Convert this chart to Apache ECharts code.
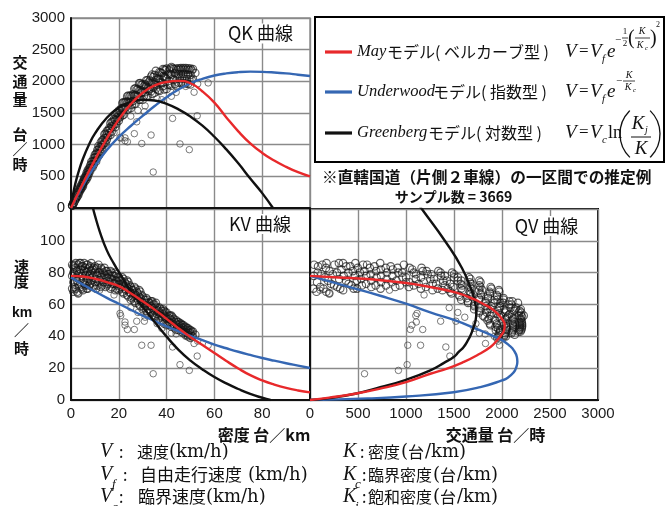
<!DOCTYPE html>
<html><head><meta charset="utf-8">
<script src="https://cdn.jsdelivr.net/npm/echarts@6/dist/echarts.min.js"></script>
<style>html,body{margin:0;padding:0;background:#fff}#c{width:672px;height:506px}</style>
</head><body><div id="c"></div>
<script>
// ---------- axis ticks ----------
const densityTicks = [0, 20, 40, 60, 80, 100];          // 台/km
const flowTicksQK = [0, 500, 1000, 1500, 2000, 2500, 3000]; // 台/時
const speedTicks = [0, 20, 40, 60, 80, 100, 120];       // km/時
const flowTicksQV = [0, 500, 1000, 1500, 2000, 2500, 3000];

// ---------- model curves ----------
// QK panel [K, Q]
const mayQK = [[0,0],[5,390],[10,760],[15,1100],[20,1400],[25,1640],[30,1820],[35,1935],[40,1990],[45,2008],[50,1970],[55,1840],[60,1663],[65,1430],[70,1210],[75,1020],[80,870],[85,750],[90,650],[95,565],[100,498]];
const underQK = [[0,0],[5,355],[10,660],[15,915],[20,1120],[25,1295],[30,1455],[35,1610],[40,1750],[45,1870],[50,1970],[55,2040],[60,2092],[65,2125],[70,2145],[75,2153],[80,2150],[85,2140],[90,2125],[95,2105],[100,2085]];
const greenQK = [[0,0],[1,244],[2,412],[3,551],[5,777],[7.5,1000],[10,1174],[15,1426],[20,1586],[25,1675],[30,1709],[35,1697],[40,1645],[45,1558],[50,1443],[55,1300],[60,1125],[65,925],[70,705],[75,465],[80,235],[84.5,0]];
// KV panel [K, V]
const mayKV = [[0,78],[5,77.6],[10,76.2],[15,74],[20,71.5],[25,67],[30,62],[35,56.8],[40,51],[45,45],[50,39.5],[55,34.5],[60,29.5],[65,24.5],[70,19.8],[75,15.6],[80,12.3],[85,9.7],[90,7.6],[95,6],[100,4.8]];
const underKV = [[0,77],[5,72.5],[10,68.2],[15,64.2],[20,60.5],[25,56.7],[30,53],[35,49.6],[40,46.3],[45,43.2],[50,40.3],[55,37.6],[60,34.8],[65,32.5],[70,30.3],[75,28.3],[80,26.4],[85,24.7],[90,23.1],[95,21.6],[100,20.1]];
const greenKV = [[8.5,126],[9.3,120],[10,116],[12,106],[15,94],[18,85.5],[20,80.5],[25,68.5],[30,58.5],[35,49],[40,39.8],[45,31.5],[50,24.7],[55,19.2],[60,14.4],[65,10.4],[70,6.9],[75,3.8],[80,1.4],[83.5,0]];
// QV panel [Q, V]
const mayQV = [[0,78],[300,77],[600,76],[1000,73.5],[1250,71],[1514,67.6],[1700,63.5],[1800,60.5],[1900,57],[1967,53.3],[2010,50],[2028,47],[2020,43.5],[1995,41],[1950,37.5],[1880,33.3],[1741,28.1],[1601,23.9],[1427,19.7],[1253,16.5],[1000,11.2],[731,7.1],[470,3.9],[200,1.5],[0,0]];
const underQV = [[0,78],[470,70],[731,65.5],[1000,60.5],[1253,55],[1514,50],[1740,44.5],[1900,40.5],[2000,37.6],[2080,34],[2123,31.2],[2155,27],[2160,24],[2145,20],[2123,17.5],[2060,14],[2000,12.3],[1775,8.1],[1497,4.9],[1000,2.2],[600,1],[0,0]];
const greenQV = [[1045,130],[1165,120],[1410,99.6],[1584,82.8],[1688,68],[1720,61],[1733,55],[1725,50],[1705,46],[1675,41],[1640,37],[1601,33.3],[1549,30.2],[1497,27],[1400,23.5],[1253,18.6],[1000,12.7],[731,8],[470,3.9],[200,1.2],[0,0]];

// ---------- observed samples [K 台/km, V km/h, Q 台/h] (estimated) ----------
// main dense band
const samplesDense = [
[1,68,68],[1,74,74],[1,80,80],[1,84,84],[2,70,140],[2,77,154],[2,83,166],[2,86,172],
[3,67,201],[3,73,219],[3,79,237],[3,85,255],[4,71,284],[4,76,304],[4,82,328],[4,86,344],
[5,69,345],[5,75,375],[5,80,400],[5,84,420],[6,72,432],[6,78,468],[6,83,498],
[7,70,490],[7,76,532],[7,81,567],[7,85,595],[8,73,584],[8,79,632],[8,84,672],
[9,71,639],[9,77,693],[9,82,738],[10,74,740],[10,80,800],[10,84,840],
[11,72,792],[11,78,858],[11,83,913],[12,75,900],[12,80,960],
[13,72,936],[13,77,1001],[13,82,1066],[14,74,1036],[14,79,1106],[14,83,1162],
[15,72,1080],[15,77,1155],[15,81,1215],[16,74,1184],[16,79,1264],
[17,71,1207],[17,76,1292],[17,80,1360],[18,73,1314],[18,78,1404],
[19,70,1330],[19,75,1425],[19,79,1501],[20,69,1380],[20,73,1460],[20,77,1540],
[21,71,1491],[21,75,1575],[22,67,1474],[22,72,1584],[22,76,1672],[23,69,1587],[23,73,1679],
[24,65,1560],[24,70,1680],[24,74,1776],[25,63,1575],[25,67,1675],[25,71,1775],
[26,65,1690],[26,69,1794],[27,61,1647],[27,66,1782],[27,70,1890],[28,63,1764],[28,67,1876],
[29,59,1711],[29,64,1856],[29,68,1972],[30,57,1710],[30,61,1830],[30,65,1950],
[31,59,1829],[31,63,1953],[32,55,1760],[32,59,1888],[32,63,2016],[33,57,1881],[33,61,2013],
[34,53,1802],[34,58,1972],[34,62,2108],[35,52,1820],[35,56,1960],[35,60,2100],
[36,54,1944],[36,58,2088],[37,50,1850],[37,55,2035],[37,58,2146],[38,52,1976],[38,56,2128],
[39,48,1872],[39,53,2067],[39,56,2184],[40,47,1880],[40,51,2040],[40,55,2200],
[41,49,2009],[41,53,2173],[42,46,1932],[42,50,2100],[42,53,2226],[43,47,2021],[43,51,2193],
[44,44,1936],[44,48,2112],[44,50,2200],[45,44,1980],[45,47,2115],[45,49,2205],
[46,43,1978],[46,46,2116],[46,48,2208],[47,42,1974],[47,45,2115],[47,47,2209],
[48,41,1968],[48,44,2112],[48,46,2208],[49,40,1960],[49,43,2107],[49,45,2205],
[50,39,1950],[50,42,2100],[50,44,2200],[51,40,2040],[51,43,2193],[52,41,2132],
[0.5,70,35],[0.5,78,39],[0.5,85,43],[1.5,71,107],[1.5,79,119],[1.5,85,128],
[2.5,68,170],[2.5,75,188],[2.5,81,203],[3.5,72,252],[3.5,80,280],[3.5,86,301],
[4.5,70,315],[4.5,78,351],[4.5,84,378],[5.5,73,402],[5.5,81,446],[5.5,86,473],
[6.5,70,455],[6.5,75,488],[6.5,80,520],[6.5,85,553],[7.5,72,540],[7.5,78,585],[7.5,83,623],
[8.5,75,638],[8.5,81,689],[8.5,86,731],[9.5,72,684],[9.5,78,741],[9.5,83,789],
[10.5,70,735],[10.5,76,798],[10.5,82,861],[11.5,74,851],[11.5,80,920],[11.5,85,978],
[12.5,71,888],[12.5,77,963],[12.5,83,1038],[13.5,74,999],[13.5,80,1080],
[14.5,71,1030],[14.5,76,1102],[14.5,81,1175],[15.5,73,1132],[15.5,79,1225],
[16.5,70,1155],[16.5,76,1254],[16.5,81,1337],[17.5,73,1278],[17.5,78,1365],
[18.5,69,1277],[18.5,75,1388],[18.5,80,1480],[19.5,72,1404],[19.5,77,1502],
[20.5,70,1435],[20.5,75,1538],[21.5,68,1462],[21.5,73,1570],[21.5,77,1656],
[22.5,70,1575],[22.5,74,1665],[23.5,66,1551],[23.5,71,1669],[23.5,75,1763],
[24.5,68,1666],[24.5,72,1764],[25.5,64,1632],[25.5,69,1760],
[26.5,62,1643],[26.5,67,1776],[26.5,71,1882],[27.5,64,1760],[27.5,68,1870],
[28.5,60,1710],[28.5,65,1853],[28.5,69,1967],[29.5,62,1829],[29.5,66,1947],
[30.5,58,1769],[30.5,63,1922],[31.5,56,1764],[31.5,61,1922],[31.5,64,2016],
[32.5,57,1853],[32.5,61,1983],[33.5,55,1843],[33.5,59,1977],[33.5,62,2077],
[34.5,55,1898],[34.5,60,2070],[35.5,53,1882],[35.5,57,2024],[35.5,61,2166],
[36.5,51,1862],[36.5,56,2044],[37.5,53,1988],[37.5,57,2138],
[38.5,50,1925],[38.5,54,2079],[38.5,57,2195],[39.5,52,2054],[39.5,55,2173],
[40.5,48,1944],[40.5,52,2106],[41.5,47,1951],[41.5,51,2117],[41.5,53,2200],
[42.5,48,2040],[42.5,52,2210],[43.5,45,1958],[43.5,49,2132],[44.5,46,2047],[44.5,49,2181],
[45.5,45,2048],[45.5,48,2184],[46.5,44,2046],[46.5,47,2186],[47.5,43,2043],[47.5,46,2185],
[48.5,42,2037],[48.5,45,2183],[49.5,41,2030],[49.5,44,2178],[50.5,40,2020],[50.5,43,2172]
];
// scattered observations away from the band
const samplesSparse = [
[20.5,54.4,1115],[20.8,53,1102],[22.6,49,1107],[22.6,47,1062],[23.6,44.3,1045],[26.5,44.3,1174],
[27.5,49.5,1361],[30.7,49.5,1520],[29.6,34.4,1018],[33.5,34.4,1152],[34.4,16.5,568],[42.5,33.3,1415],
[45.6,22.2,1012],[49.5,18.6,921],[52.8,27.6,1457],[57.4,34.4,1975],[51.5,35.5,1828],[44,41.5,1826],
[38,45,1710],[3,67,201],[1.5,69,104],[53,37,1961],[48,40,1920],[25,58,1450],[31,52,1612],
[36,48,1728],[18,66,1188],[12,69,828],[42,42,1764],[28,55,1540]
];

// ---------- texts ----------
const legendNames = ['May', 'Underwood', 'Greenberg'];
const legendTypes = ['モデル( ベルカーブ型 )', 'モデル( 指数型 )', 'モデル( 対数型 )'];
const colors = ['#e8292b', '#3567b3', '#111111'];

const JP = '"Noto Sans CJK JP"';
const SER = '"Liberation Serif"';
const DSER = '"DejaVu Serif"';
const SANS = '"Liberation Sans"';

const G = [];
function txt(text, x, y, font, align, extra) {
  G.push({type: 'text', x: x, y: y, z: 50, silent: true,
    style: Object.assign({text: text, font: font, fill: '#111', textAlign: align || 'left', textVerticalAlign: 'middle'}, extra || {})});
}
function seg(x1, y1, x2, y2, color, w) {
  G.push({type: 'line', z: 50, silent: true, shape: {x1: x1, y1: y1, x2: x2, y2: y2}, style: {stroke: color, lineWidth: w}});
}
function paren(cx, cy, r, a0, a1) {
  G.push({type: 'arc', z: 50, silent: true, shape: {cx: cx, cy: cy, r: r, startAngle: a0, endAngle: a1, clockwise: true},
    style: {stroke: '#111', lineWidth: 1.3, fill: null}});
}

// axis names
const bJP15 = 'bold 15px ' + JP;
txt('交', 20, 62, bJP15, 'center'); txt('通', 20, 81, bJP15, 'center'); txt('量', 20, 99.5, bJP15, 'center');
txt('台', 20, 134, bJP15, 'center'); txt('／', 20, 149, bJP15, 'center'); txt('時', 20, 164, bJP15, 'center');
txt('速', 21.5, 266, bJP15, 'center'); txt('度', 21.5, 281, bJP15, 'center');
txt('km', 22, 313, 'bold 14px ' + SANS, 'center'); txt('／', 21.5, 330, bJP15, 'center'); txt('時', 21.5, 348, bJP15, 'center');
txt('密度 台／km', 264, 434.5, 'bold 16px ' + JP, 'center');
txt('交通量 台／時', 495.5, 434.5, 'bold 16px ' + JP, 'center');

// panel titles
const titleStyle = {backgroundColor: '#fff', padding: [1, 3]};
txt('QK 曲線', 260.5, 33.5, '18px ' + JP, 'center', titleStyle);
txt('KV 曲線', 260, 224, '18px ' + JP, 'center', titleStyle);
txt('QV 曲線', 546.5, 226, '18px ' + JP, 'center', titleStyle);

// legend box
G.push({type: 'rect', z: 40, silent: true, shape: {x: 315, y: 17, width: 349, height: 145}, style: {fill: '#fff', stroke: '#000', lineWidth: 2}});
const rowY = [52, 92, 133];
const nameEnd = [387, 433, 428];
for (let i = 0; i < 3; i++) {
  seg(325, rowY[i], 352, rowY[i], colors[i], 3.2);
  txt(legendNames[i], 357, rowY[i], 'italic 16.5px ' + SER, 'left');
  txt(legendTypes[i], nameEnd[i], rowY[i], '16px ' + JP, 'left');
  txt('V', 565, rowY[i], 'italic 19px ' + SER, 'left');
  txt('=', 579, rowY[i], '17px ' + SER, 'left');
  txt('V', 590, rowY[i], 'italic 19px ' + SER, 'left');
}
// formula 1: V = Vf e^{-1/2 (K/Kc)^2}
txt('f', 602, 59, 'italic 11px ' + SER); txt('e', 607, 52, 'italic 19px ' + SER);
txt('−', 615, 40, '11px ' + SER); txt('1', 625, 32, '9px ' + SER, 'center'); seg(622, 38, 628, 38, '#111', 0.8); txt('2', 625, 44, '9px ' + SER, 'center');
txt('(', 628, 39, '20px ' + SER); txt('K', 642, 31, 'italic 10px ' + SER, 'center'); seg(635, 38, 650, 38, '#111', 0.8);
txt('K', 640, 45, 'italic 10px ' + SER, 'center'); txt('c', 645, 48, 'italic 7px ' + SER);
txt(')', 650, 39, '20px ' + SER); txt('2', 656, 25, '8px ' + SER);
// formula 2: V = Vf e^{-K/Kc}
txt('f', 602, 99, 'italic 11px ' + SER); txt('e', 607, 92, 'italic 19px ' + SER);
txt('−', 616, 81, '11px ' + SER); txt('K', 629, 75, 'italic 10px ' + SER, 'center'); seg(623, 81, 635, 81, '#111', 0.8);
txt('K', 628, 87, 'italic 10px ' + SER, 'center'); txt('c', 633, 90, 'italic 7px ' + SER);
// formula 3: V = Vc ln(Kj/K)
txt('c', 602, 140, 'italic 11px ' + SER); txt('ln', 608, 133, '18px ' + SER);
paren(652.6, 134, 32.6, Math.PI - 0.8, Math.PI + 0.8);
paren(627.4, 134, 32.6, -0.8, 0.8);
txt('K', 638, 124, 'italic 19px ' + SER, 'center'); txt('j', 645, 130, 'italic 10px ' + SER);
seg(631, 137, 651, 137, '#111', 1);
txt('K', 641, 149, 'italic 19px ' + SER, 'center');

// notes
txt('※直轄国道（片側２車線）の一区間での推定例', 322, 177, 'bold 15.7px ' + JP, 'left');
txt('サンプル数 = 3669', 453.5, 196.5, 'bold 14px ' + JP, 'center');

// definitions
const defJP = '16px ' + JP, defV = 'italic 20px ' + SER, defU = '18px ' + DSER;
txt('V', 100, 452, defV); txt(':', 119, 452, defJP); txt('速度', 137, 452, defJP); txt('(km/h)', 169, 452, defU);
txt('V', 100, 475, defV); txt('f', 112, 485, 'italic 13px ' + SER); txt(':', 123, 475, defJP); txt('自由走行速度', 140, 475, '17px ' + JP); txt('(km/h)', 248, 475, defU);
txt('V', 100, 497, defV); txt('c', 112, 508, 'italic 13px ' + SER); txt(':', 119, 497, defJP); txt('臨界速度', 138, 497, '17px ' + JP); txt('(km/h)', 206, 497, defU);
txt('K', 343, 452, defV); txt(':', 360, 452, defJP); txt('密度', 368, 452, defJP); txt('(', 401, 452, defU); txt('台', 408, 452, defJP); txt('/km)', 425, 452, defU);
txt('K', 343, 475, defV); txt('c', 355, 485, 'italic 13px ' + SER); txt(':', 362, 475, defJP); txt('臨界密度', 368, 475, defJP); txt('(', 433, 475, defU); txt('台', 440, 475, defJP); txt('/km)', 457, 475, defU);
txt('K', 343, 497, defV); txt('j', 355, 507, 'italic 13px ' + SER); txt(':', 362, 497, defJP); txt('飽和密度', 368, 497, defJP); txt('(', 433, 497, defU); txt('台', 440, 497, defJP); txt('/km)', 457, 497, defU);

// ---------- chart ----------
const gridLine = {show: true, lineStyle: {color: '#8a8a8a', width: 1.4}};
const blackAxis = {show: true, lineStyle: {color: '#111', width: 2}};
const tickFont = {fontFamily: 'Liberation Sans', fontSize: 15, color: '#1a1a1a'};

function valAxis(grid, ticks, showLabel, hideVal, margin) {
  return {
    type: 'value', gridIndex: grid, min: ticks[0], max: ticks[ticks.length - 1], interval: ticks[1] - ticks[0],
    axisLine: blackAxis, axisTick: {show: false}, splitLine: gridLine,
    axisLabel: Object.assign({show: showLabel, margin: margin, showMinLabel: true, showMaxLabel: true,
      formatter: function (v) { return v === hideVal ? '' : String(v); }}, tickFont)
  };
}

const denseStyle = {color: 'rgba(0,0,0,0)', borderColor: 'rgba(20,20,20,0.85)', borderWidth: 1.15};
const sparseStyle = {color: 'rgba(0,0,0,0)', borderColor: 'rgba(70,70,70,0.9)', borderWidth: 1};
function scatter(idx, data, size, style) {
  return {type: 'scatter', xAxisIndex: idx, yAxisIndex: idx, data: data, symbol: 'circle', symbolSize: size,
    itemStyle: style, z: 2, silent: true, large: false};
}
function curve(idx, data, color) {
  return {type: 'line', xAxisIndex: idx, yAxisIndex: idx, data: data, smooth: true, symbol: 'none', showSymbol: false,
    clip: true, lineStyle: {color: color, width: 2.4}, z: 3, silent: true};
}

const option = {
  backgroundColor: '#fff',
  animation: false,
  grid: [
    {left: 71, top: 18, width: 239, height: 190, show: true, borderColor: '#8a8a8a', borderWidth: 1.4, containLabel: false, outerBoundsMode: 'none'},
    {left: 71, top: 209, width: 239, height: 191, show: true, borderColor: '#8a8a8a', borderWidth: 1.4, containLabel: false, outerBoundsMode: 'none'},
    {left: 310, top: 209, width: 288, height: 191, show: true, borderColor: '#111', borderWidth: 2, containLabel: false, outerBoundsMode: 'none'}
  ],
  xAxis: [
    valAxis(0, densityTicks, false, null, 6),
    valAxis(1, densityTicks, true, 100, 6),
    valAxis(2, flowTicksQV, true, null, 6)
  ],
  yAxis: [
    valAxis(0, flowTicksQK, true, null, 6),
    valAxis(1, speedTicks, true, 120, 6),
    valAxis(2, speedTicks, false, null, 6)
  ],
  series: [
    scatter(0, samplesDense.map(s => [s[0], s[2]]), 7.5, denseStyle),
    scatter(1, samplesDense.map(s => [s[0], s[1]]), 7.5, denseStyle),
    scatter(2, samplesDense.map(s => [s[2], s[1]]), 7.5, denseStyle),
    scatter(0, samplesSparse.map(s => [s[0], s[2]]), 6.5, sparseStyle),
    scatter(1, samplesSparse.map(s => [s[0], s[1]]), 6.5, sparseStyle),
    scatter(2, samplesSparse.map(s => [s[2], s[1]]), 6.5, sparseStyle),
    curve(0, underQK, colors[1]), curve(0, greenQK, colors[2]), curve(0, mayQK, colors[0]),
    curve(1, underKV, colors[1]), curve(1, greenKV, colors[2]), curve(1, mayKV, colors[0]),
    curve(2, underQV, colors[1]), curve(2, greenQV, colors[2]), curve(2, mayQV, colors[0])
  ],
  graphic: {elements: G}
};

const chart = echarts.init(document.getElementById('c'), null, {renderer: 'canvas'});
chart.setOption(option);
</script></body></html>
